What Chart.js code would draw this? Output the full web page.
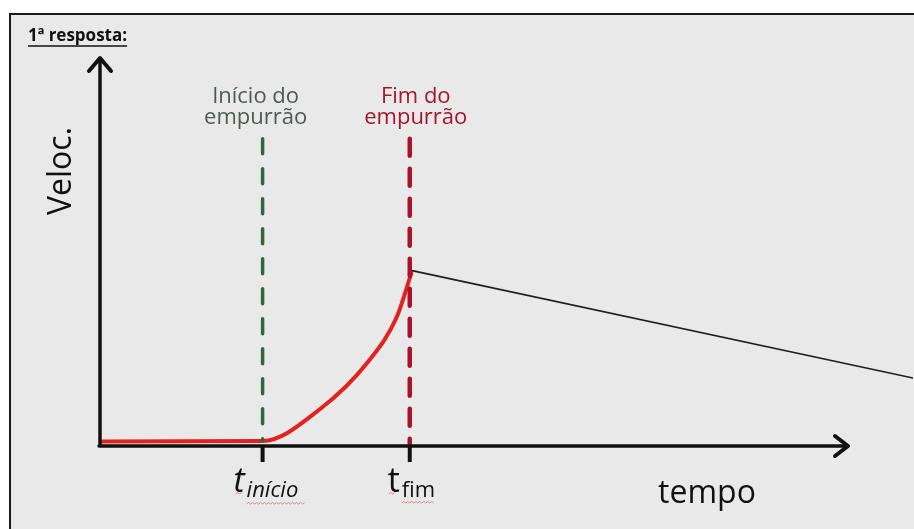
<!DOCTYPE html>
<html>
<head>
<meta charset="utf-8">
<script src="https://cdn.jsdelivr.net/npm/chart.js@4.4.0/dist/chart.umd.min.js"></script>
<style>
  html, body { margin: 0; padding: 0; background: #fff; }
  canvas { display: block; }
</style>
</head>
<body>
<canvas id="grafico" width="914" height="529"></canvas>
<script>
// velocidade x tempo (unidades arbitrarias, 0..100 nos dois eixos)
const tempoCurva = [0, 20, 27, 33, 36.5, 38.3];
const velocCurva = [1.2, 1.3, 9.5, 22.0, 33.6, 45.0];
const tempoQueda = [38.1, 100];
const velocQueda = [45.8, 17.7];
const tInicio = 20;
const tFim = 38.1;
const topoTracejado = [80, 80];
const baseTracejado = [1.3, 0];
const rotuloInicio = ['Início do', 'empurrão'];
const rotuloFim = ['Fim do', 'empurrão'];
const tituloY = 'Veloc.';
const tituloX = 'tempo';
const cabecalho = '1ª resposta:';

const FONTE = "'Open Sans', 'Noto Sans', sans-serif";

function pontos(xs, ys) {
    return xs.map(function(x, i) { return { x: x, y: ys[i] }; });
}

const fundo = {
    id: 'fundo',
    beforeDraw: function(chart) {
        const ctx = chart.ctx;
        ctx.save();
        ctx.fillStyle = '#ffffff';
        ctx.fillRect(0, 0, chart.width, chart.height);
        ctx.fillStyle = '#e9e9e9';
        ctx.fillRect(9, 13, chart.width - 9, chart.height - 13);
        ctx.strokeStyle = '#1a1a1a';
        ctx.lineWidth = 2;
        ctx.beginPath();
        ctx.moveTo(10, chart.height);
        ctx.lineTo(10, 14);
        ctx.lineTo(chart.width, 14);
        ctx.stroke();
        ctx.restore();
    }
};

function ondinha(ctx, x0, x1, y) {
    ctx.save();
    ctx.strokeStyle = 'rgba(200,60,60,0.55)';
    ctx.lineWidth = 1;
    ctx.beginPath();
    ctx.moveTo(x0, y);
    let sobe = true;
    for (let x = x0 + 2; x <= x1; x += 2) {
        ctx.lineTo(x, sobe ? y - 1.5 : y);
        sobe = !sobe;
    }
    ctx.stroke();
    ctx.restore();
}

const desenho = {
    id: 'desenho',
    afterDatasetsDraw: function(chart) {
        const ctx = chart.ctx;
        const sx = chart.scales.x;
        const sy = chart.scales.y;
        const x0 = sx.getPixelForValue(0);
        const y0 = sy.getPixelForValue(0);
        const yTopo = sy.getPixelForValue(100) - 4;
        const xFim = 848;

        ctx.save();
        ctx.strokeStyle = '#111';
        ctx.lineCap = 'round';
        ctx.lineJoin = 'round';

        // eixos
        ctx.lineWidth = 3.5;
        ctx.beginPath();
        ctx.moveTo(x0, y0);
        ctx.lineTo(x0, yTopo + 2);
        ctx.moveTo(x0 - 1, y0);
        ctx.lineTo(xFim - 2, y0);
        ctx.stroke();

        // setas
        ctx.lineWidth = 4;
        ctx.beginPath();
        ctx.moveTo(x0 - 11, yTopo + 13);
        ctx.lineTo(x0, yTopo);
        ctx.lineTo(x0 + 11, yTopo + 13);
        ctx.moveTo(xFim - 13, y0 - 10);
        ctx.lineTo(xFim, y0);
        ctx.lineTo(xFim - 13, y0 + 10);
        ctx.stroke();

        // marcas t_inicio e t_fim
        ctx.lineWidth = 4;
        ctx.lineCap = 'butt';
        [tInicio, tFim].forEach(function(t) {
            const px = sx.getPixelForValue(t);
            ctx.beginPath();
            ctx.moveTo(px, y0);
            ctx.lineTo(px, y0 + 16);
            ctx.stroke();
        });

        ctx.textAlign = 'center';
        ctx.textBaseline = 'alphabetic';

        // rotulos das linhas tracejadas
        const pxIni = sx.getPixelForValue(tInicio);
        const pxFim = sx.getPixelForValue(tFim);
        ctx.font = '22px ' + FONTE;
        ctx.fillStyle = '#4f5a52';
        ctx.fillText(rotuloInicio[0], pxIni - 7, 103);
        ctx.fillText(rotuloInicio[1], pxIni - 7, 124);
        ctx.fillStyle = '#a3172a';
        ctx.fillText(rotuloFim[0], pxFim + 6, 103);
        ctx.fillText(rotuloFim[1], pxFim + 6, 124);

        // titulos
        ctx.fillStyle = '#111';
        ctx.font = '32px ' + FONTE;
        ctx.fillText(tituloX, 707, 503);
        ctx.save();
        ctx.translate(71, 171);
        ctx.rotate(-Math.PI / 2);
        ctx.fillText(tituloY, 0, 0);
        ctx.restore();

        // t_inicio, t_fim
        ctx.textAlign = 'left';
        ctx.font = 'italic 34px ' + FONTE;
        ctx.fillText('t', pxIni - 29, 492);
        ctx.font = 'italic 22px ' + FONTE;
        ctx.fillText('início', pxIni - 16, 497);
        ctx.font = '34px ' + FONTE;
        ctx.fillText('t', pxFim - 22, 492);
        ctx.font = '22px ' + FONTE;
        ctx.fillText('fim', pxFim - 8, 497);
        ondinha(ctx, pxIni - 27, pxIni - 20, 494);
        ondinha(ctx, pxIni - 16, pxIni + 42, 504);
        ondinha(ctx, pxFim - 21, pxFim - 14, 494);
        ondinha(ctx, pxFim - 8, pxFim + 24, 503);

        // cabecalho
        ctx.font = 'bold 17px ' + FONTE;
        ctx.fillStyle = '#111';
        ctx.fillText(cabecalho, 28, 41);
        const larg = ctx.measureText(cabecalho).width;
        ctx.lineWidth = 1.5;
        ctx.beginPath();
        ctx.moveTo(28, 46);
        ctx.lineTo(28 + larg, 46);
        ctx.stroke();

        ctx.restore();
    }
};

const ctx = document.getElementById('grafico').getContext('2d');
const grafico = new Chart(ctx, {
    type: 'line',
    data: {
        datasets: [
            {
                label: 'início do empurrão',
                data: pontos([tInicio, tInicio], [topoTracejado[0], baseTracejado[0]]),
                borderColor: '#2c6a3c',
                borderWidth: 3.5,
                borderDash: [15, 15],
                pointRadius: 0
            },
            {
                label: 'fim do empurrão',
                data: pontos([tFim, tFim], [topoTracejado[1], baseTracejado[1]]),
                borderColor: '#a8142a',
                borderWidth: 4.5,
                borderDash: [17, 13],
                pointRadius: 0
            },
            {
                label: 'depois',
                data: pontos(tempoQueda, velocQueda),
                borderColor: '#1e1e1e',
                borderWidth: 1.6,
                pointRadius: 0
            },
            {
                label: 'velocidade',
                data: pontos(tempoCurva, velocCurva),
                borderColor: '#e3221f',
                borderWidth: 4,
                cubicInterpolationMode: 'monotone',
                pointRadius: 0
            }
        ]
    },
    options: {
        responsive: false,
        animation: false,
        devicePixelRatio: 1,
        layout: {
            padding: { left: 100, right: 1, top: 62, bottom: 83 }
        },
        scales: {
            x: { type: 'linear', min: 0, max: 100, display: false },
            y: { min: 0, max: 100, display: false }
        },
        plugins: {
            legend: { display: false },
            tooltip: { enabled: false }
        },
        elements: {
            line: { borderCapStyle: 'round' }
        }
    },
    plugins: [fundo, desenho]
});
</script>
</body>
</html>
